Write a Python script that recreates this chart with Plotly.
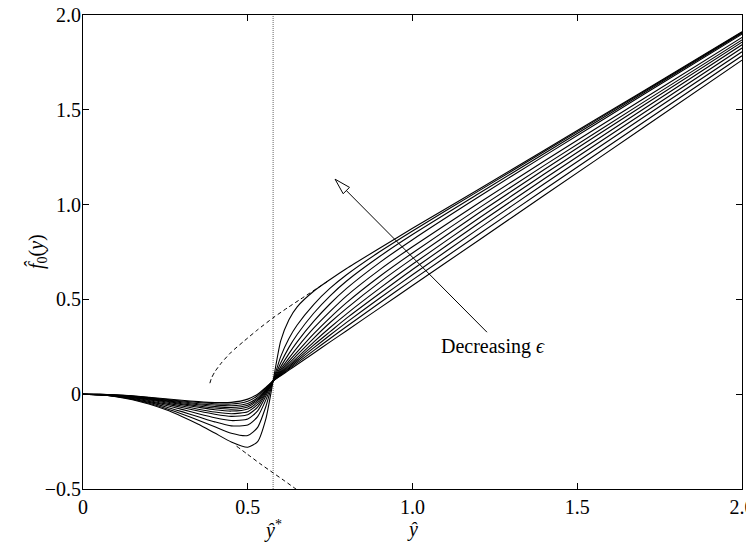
import plotly.graph_objects as go

# ---------------- data ----------------
x_grid = [0, 0.05, 0.1, 0.15, 0.2, 0.25, 0.3, 0.35, 0.4, 0.45, 0.5, 0.53, 0.555, 0.577,
          0.6, 0.625, 0.65, 0.7, 0.75, 0.8, 0.9, 1.0, 1.2, 1.4, 1.7, 2.0]

# curves ordered from largest epsilon (k0) to smallest epsilon (k11)
curve_k0 = [0, -0.001, -0.004, -0.009, -0.016, -0.024, -0.032, -0.039, -0.044, -0.043, -0.026, 0.000, 0.036, 0.07,
            0.097, 0.127, 0.157, 0.216, 0.276, 0.335, 0.454, 0.573, 0.811, 1.049, 1.405, 1.762]
curve_k1 = [0, -0.001, -0.005, -0.010, -0.018, -0.027, -0.036, -0.044, -0.050, -0.052, -0.037, -0.008, 0.032, 0.07,
            0.100, 0.133, 0.165, 0.230, 0.294, 0.357, 0.481, 0.603, 0.842, 1.080, 1.433, 1.785]
curve_k2 = [0, -0.001, -0.005, -0.011, -0.020, -0.030, -0.040, -0.050, -0.057, -0.061, -0.049, -0.019, 0.025, 0.07,
            0.103, 0.138, 0.174, 0.244, 0.312, 0.379, 0.506, 0.630, 0.872, 1.110, 1.459, 1.806]
curve_k3 = [0, -0.002, -0.006, -0.012, -0.022, -0.033, -0.045, -0.056, -0.065, -0.070, -0.058, -0.026, 0.022, 0.07,
            0.106, 0.145, 0.183, 0.259, 0.330, 0.401, 0.531, 0.658, 0.900, 1.136, 1.482, 1.826]
curve_k4 = [0, -0.002, -0.006, -0.013, -0.024, -0.036, -0.050, -0.062, -0.073, -0.079, -0.067, -0.033, 0.019, 0.07,
            0.110, 0.152, 0.193, 0.275, 0.352, 0.424, 0.558, 0.685, 0.927, 1.161, 1.503, 1.843]
curve_k5 = [0, -0.002, -0.007, -0.015, -0.026, -0.040, -0.055, -0.069, -0.082, -0.089, -0.078, -0.042, 0.015, 0.07,
            0.115, 0.162, 0.207, 0.295, 0.378, 0.453, 0.590, 0.715, 0.954, 1.185, 1.523, 1.857]
curve_k6 = [0, -0.002, -0.008, -0.017, -0.029, -0.045, -0.062, -0.079, -0.094, -0.103, -0.092, -0.054, 0.009, 0.07,
            0.122, 0.174, 0.223, 0.318, 0.404, 0.483, 0.621, 0.745, 0.980, 1.207, 1.539, 1.869]
curve_k7 = [0, -0.002, -0.009, -0.019, -0.033, -0.051, -0.070, -0.089, -0.106, -0.117, -0.108, -0.068, 0.002, 0.07,
            0.131, 0.190, 0.246, 0.348, 0.437, 0.519, 0.656, 0.778, 1.007, 1.230, 1.557, 1.882]
curve_k8 = [0, -0.003, -0.010, -0.022, -0.038, -0.058, -0.080, -0.103, -0.124, -0.139, -0.131, -0.088, -0.010, 0.07,
            0.144, 0.214, 0.276, 0.384, 0.477, 0.558, 0.694, 0.815, 1.040, 1.257, 1.579, 1.899]
curve_k9 = [0, -0.003, -0.011, -0.025, -0.043, -0.066, -0.092, -0.119, -0.146, -0.167, -0.163, -0.118, -0.030, 0.07,
            0.164, 0.247, 0.315, 0.427, 0.519, 0.597, 0.726, 0.842, 1.057, 1.270, 1.587, 1.905]
curve_k10 = [0, -0.003, -0.012, -0.027, -0.048, -0.074, -0.104, -0.137, -0.172, -0.206, -0.218, -0.175, -0.065, 0.07,
             0.198, 0.294, 0.365, 0.473, 0.559, 0.630, 0.751, 0.861, 1.071, 1.280, 1.594, 1.909]
curve_k11 = [0, -0.003, -0.013, -0.029, -0.052, -0.081, -0.117, -0.158, -0.205, -0.252, -0.280, -0.250, -0.130, 0.07,
             0.281, 0.393, 0.461, 0.543, 0.605, 0.663, 0.770, 0.875, 1.080, 1.287, 1.598, 1.912]

curves = [curve_k0, curve_k1, curve_k2, curve_k3, curve_k4, curve_k5,
          curve_k6, curve_k7, curve_k8, curve_k9, curve_k10, curve_k11]

# dashed outer solutions
upper_dash_x = [0.385, 0.39, 0.40, 0.42, 0.45, 0.49, 0.53, 0.577, 0.62, 0.66, 0.71, 0.75]
upper_dash_y = [0.058, 0.085, 0.118, 0.165, 0.222, 0.282, 0.34, 0.403, 0.455, 0.501, 0.558, 0.604]
lower_dash_x = [0.466, 0.5, 0.537, 0.577, 0.61, 0.65]
lower_dash_y = [-0.274, -0.318, -0.366, -0.415, -0.455, -0.505]

y_star = 0.577

x_ticks = [0, 0.5, 1.0, 1.5, 2.0]
x_ticklabels = ["0", "0.5", "1.0", "1.5", "2.0"]
y_ticks = [-0.5, 0, 0.5, 1.0, 1.5, 2.0]
y_ticklabels = ["\u22120.5", "0", "0.5", "1.0", "1.5", "2.0"]

# ---------------- figure ----------------
# the page body adds an 8px offset, so the figure is sized to fill the rest
W, H = 746, 538
ML, MR, MT, MB = 75, 12, 7, 57
X_RANGE = [0, 2.0]
Y_RANGE = [-0.5, 2.0]
FONT = "Liberation Serif, Times New Roman, serif"
FS = 20

fig = go.Figure()

for c in curves:
    fig.add_trace(go.Scatter(x=x_grid, y=c, mode="lines",
                             line=dict(color="black", width=1.1, shape="spline", smoothing=0.6),
                             hoverinfo="skip", showlegend=False))

fig.add_trace(go.Scatter(x=upper_dash_x, y=upper_dash_y, mode="lines",
                         line=dict(color="black", width=1, dash="4px,3px", shape="spline", smoothing=0.6),
                         hoverinfo="skip", showlegend=False))
fig.add_trace(go.Scatter(x=lower_dash_x, y=lower_dash_y, mode="lines",
                         line=dict(color="black", width=1, dash="4px,3px", shape="spline", smoothing=0.6),
                         hoverinfo="skip", showlegend=False))

# vertical dotted line at y*
fig.add_shape(type="line", xref="x", yref="paper", x0=y_star, x1=y_star, y0=0, y1=1,
              line=dict(color="#666666", width=1, dash="1px,1px"), layer="below")

# arrow with open triangular head
pxx = (W - ML - MR) / (X_RANGE[1] - X_RANGE[0])
pxy = (H - MT - MB) / (Y_RANGE[1] - Y_RANGE[0])
tail = (1.226, 0.327)
tip = (0.765, 1.134)
dx_px = (tip[0] - tail[0]) * pxx
dy_px = (tip[1] - tail[1]) * pxy
L = (dx_px ** 2 + dy_px ** 2) ** 0.5
ux, uy = dx_px / L, dy_px / L
head_len, head_hw = 16, 4.5
bx_px, by_px = -ux * head_len, -uy * head_len
base = (tip[0] + bx_px / pxx, tip[1] + by_px / pxy)
c1 = (base[0] + (-uy * head_hw) / pxx, base[1] + (ux * head_hw) / pxy)
c2 = (base[0] - (-uy * head_hw) / pxx, base[1] - (ux * head_hw) / pxy)
fig.add_shape(type="line", xref="x", yref="y", x0=tail[0], y0=tail[1], x1=base[0], y1=base[1],
              line=dict(color="black", width=1))
fig.add_shape(type="path", xref="x", yref="y",
              path=f"M {tip[0]},{tip[1]} L {c1[0]},{c1[1]} L {c2[0]},{c2[1]} Z",
              fillcolor="white", line=dict(color="black", width=1))

fig.add_annotation(x=1.244, y=0.253, xref="x", yref="y", text="Decreasing <i>\u03f5</i>",
                   showarrow=False, font=dict(family=FONT, size=FS, color="black"))

# x-axis labels below the tick labels
fig.add_annotation(x=y_star, y=0, xref="x", yref="paper", yanchor="middle", yshift=-40,
                   text="<i>\u0177</i><sup>*</sup>",
                   showarrow=False, font=dict(family=FONT, size=FS, color="black"))
fig.add_annotation(x=1.0, y=0, xref="x", yref="paper", yanchor="middle", yshift=-40,
                   text="<i>\u0177</i>",
                   showarrow=False, font=dict(family=FONT, size=FS, color="black"))
# y-axis label
fig.add_annotation(x=0, y=0.5, xref="paper", yref="paper", xanchor="center", yanchor="middle",
                   xshift=-46, textangle=-90,
                   text="<i>f\u0302</i><sub>0</sub>(<i>y</i>)",
                   showarrow=False, font=dict(family=FONT, size=FS, color="black"))

axis_common = dict(showline=True, linecolor="black", linewidth=1, mirror="ticks",
                   ticks="inside", ticklen=6, tickcolor="black", tickwidth=1,
                   showgrid=False, zeroline=False, automargin=False,
                   ticklabeloverflow="allow",
                   tickfont=dict(family=FONT, size=FS, color="black"))

fig.update_layout(
    width=W, height=H,
    margin=dict(l=ML, r=MR, t=MT, b=MB),
    paper_bgcolor="white", plot_bgcolor="white",
    showlegend=False,
    xaxis=dict(range=X_RANGE, tickvals=x_ticks, ticktext=x_ticklabels, **axis_common),
    yaxis=dict(range=Y_RANGE, tickvals=y_ticks, ticktext=y_ticklabels, ticklabelstandoff=-3,
               **axis_common),
)

fig.write_html("out.html")
